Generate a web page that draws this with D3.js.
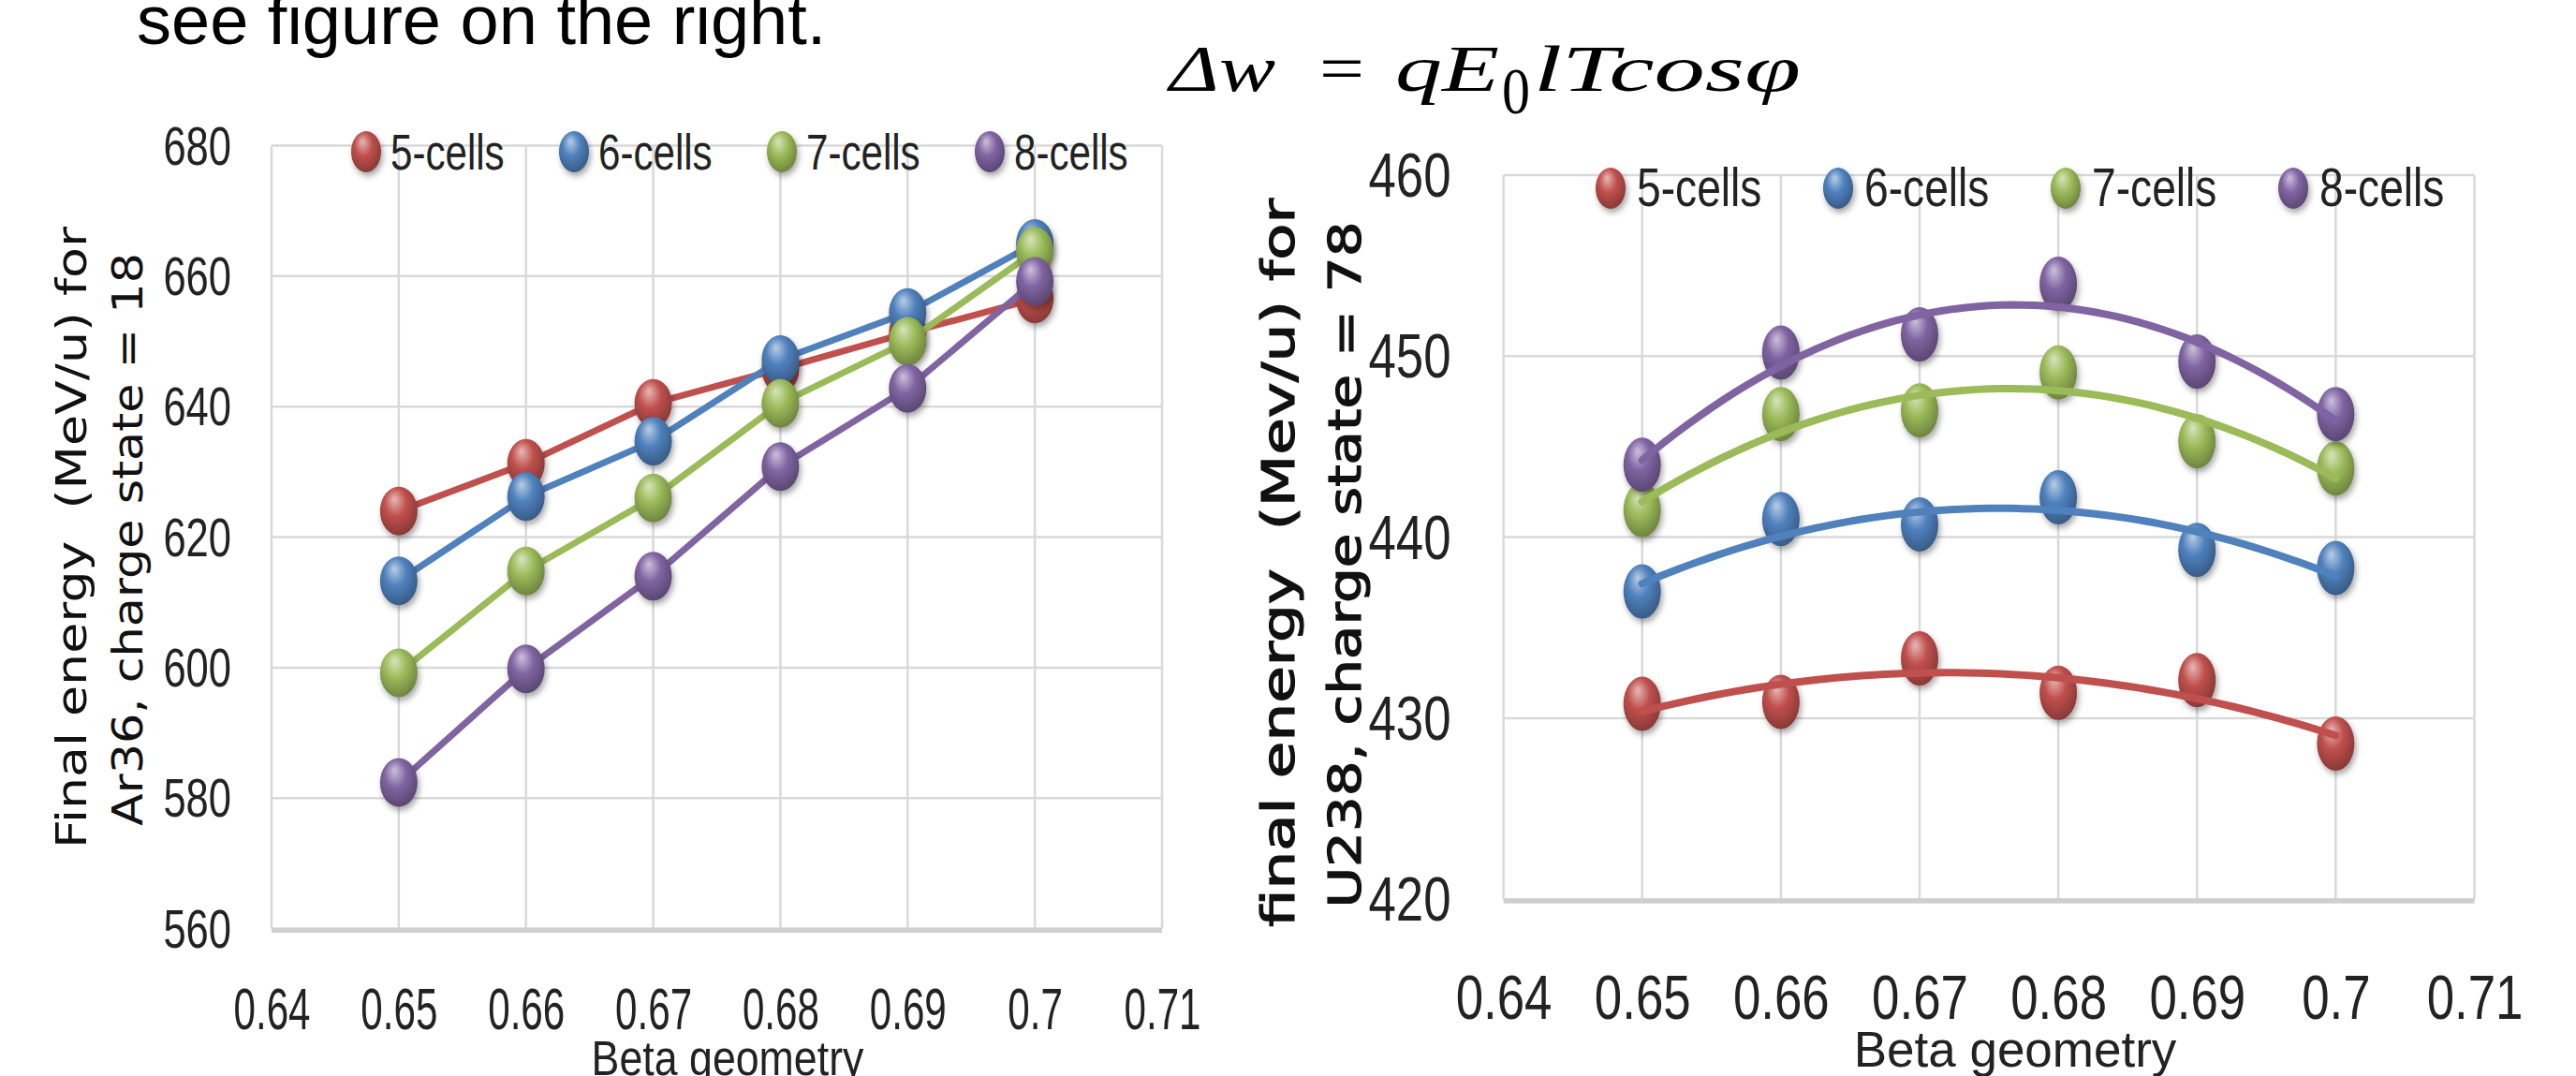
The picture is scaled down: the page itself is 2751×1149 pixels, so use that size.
<!DOCTYPE html>
<html>
<head>
<meta charset="utf-8">
<script src="https://cdn.jsdelivr.net/npm/d3@7/dist/d3.min.js"></script>
<style>
  body { margin: 0; background: #fff; }
  svg { display: block; }
</style>
</head>
<body>
<svg id="fig" width="2751" height="1149"></svg>
<script>
// ---- data ----
const betas = [0.65, 0.66, 0.67, 0.68, 0.69, 0.70];
const xTicks = [0.64, 0.65, 0.66, 0.67, 0.68, 0.69, 0.70, 0.71];
const seriesNames = ["5-cells", "6-cells", "7-cells", "8-cells"];
const seriesColors = ["#c0504d", "#4f81bd", "#9bbb59", "#8064a2"];

// Ar36, charge state 18
const ar5 = [624.0, 631.3, 640.5, 645.8, 651.3, 656.5];
const ar6 = [613.3, 626.2, 634.7, 647.2, 654.4, 665.0];
const ar7 = [599.2, 614.8, 626.0, 640.5, 650.0, 663.8];
const ar8 = [582.4, 599.8, 614.0, 630.8, 642.8, 659.2];
const arTicks = [560, 580, 600, 620, 640, 660, 680];

// U238, charge state 78
const u5 = [430.8, 430.9, 433.3, 431.4, 432.1, 428.6];
const u6 = [437.0, 441.0, 440.7, 442.2, 439.3, 438.3];
const u7 = [441.5, 446.8, 447.0, 449.1, 445.3, 443.8];
const u8 = [444.0, 450.2, 451.2, 454.0, 449.7, 446.8];
const uTicks = [420, 430, 440, 450, 460];

const svg = d3.select("#fig");
const sans = "'Liberation Sans', Arial, sans-serif";
const defs = svg.append("defs");

// sphere-like marker fills
seriesColors.forEach((c, i) => {
  const g = defs.append("radialGradient").attr("id", "ball" + i)
    .attr("cx", "45%").attr("cy", "40%").attr("r", "65%")
    .attr("fx", "38%").attr("fy", "25%");
  g.append("stop").attr("offset", "0%").attr("stop-color", d3.interpolateRgb(c, "#fff")(0.6));
  g.append("stop").attr("offset", "45%").attr("stop-color", c);
  g.append("stop").attr("offset", "100%").attr("stop-color", d3.color(c).darker(1.1));
});
const sh = defs.append("filter").attr("id", "shadow").attr("x", "-50%").attr("y", "-50%").attr("width", "200%").attr("height", "200%");
sh.append("feDropShadow").attr("dx", 2).attr("dy", 4).attr("stdDeviation", 3).attr("flood-color", "#000").attr("flood-opacity", 0.35);

// least squares y = a + b t + c t^2 (Excel polynomial trendline)
function quadFit(xs, ys) {
  const m = d3.mean(xs);
  const t = xs.map(x => (x - m) * 100);
  const S = k => d3.sum(t, v => Math.pow(v, k));
  const T = k => d3.sum(t, (v, i) => Math.pow(v, k) * ys[i]);
  const A = [[S(0), S(1), S(2), T(0)], [S(1), S(2), S(3), T(1)], [S(2), S(3), S(4), T(2)]];
  for (let i = 0; i < 3; i++) {
    for (let j = i + 1; j < 3; j++) {
      const f = A[j][i] / A[i][i];
      for (let k = i; k < 4; k++) A[j][k] -= f * A[i][k];
    }
  }
  const r = [0, 0, 0];
  for (let i = 2; i >= 0; i--) {
    let s = A[i][3];
    for (let k = i + 1; k < 3; k++) s -= A[i][k] * r[k];
    r[i] = s / A[i][i];
  }
  return x => { const u = (x - m) * 100; return r[0] + r[1] * u + r[2] * u * u; };
}

function panel(cfg) {
  const x = d3.scaleLinear().domain([0.64, 0.71]).range(cfg.xr);
  const y = d3.scaleLinear().domain(d3.extent(cfg.yTicks)).range(cfg.yr);
  const g = svg.append("g");

  // grid + frame
  g.selectAll(".hg").data(cfg.yTicks).join("line")
    .attr("x1", x(0.64)).attr("x2", x(0.71))
    .attr("y1", d => y(d)).attr("y2", d => y(d))
    .attr("stroke", "#d9d9d9").attr("stroke-width", 2.5);
  g.selectAll(".vg").data(xTicks).join("line")
    .attr("x1", d => x(d)).attr("x2", d => x(d))
    .attr("y1", y.range()[1]).attr("y2", y.range()[0])
    .attr("stroke", "#d9d9d9").attr("stroke-width", 2.5);
  g.append("line")
    .attr("x1", x(0.64)).attr("x2", x(0.71))
    .attr("y1", y.range()[0] + 2).attr("y2", y.range()[0] + 2)
    .attr("stroke", "#cfcfcf").attr("stroke-width", 5);

  // axes
  const ay = g.append("g").attr("transform", `translate(${x(0.64)},0)`)
    .call(d3.axisLeft(y).tickValues(cfg.yTicks).tickSize(0).tickFormat(d3.format("d")));
  ay.select(".domain").remove();
  ay.selectAll("text")
    .attr("x", 0).attr("dy", null)
    .attr("transform", `translate(${-cfg.yGap},${cfg.yFont * 0.34}) scale(${cfg.yScale},1)`)
    .attr("font-family", sans).attr("font-size", cfg.yFont).attr("fill", "#222");

  const ax = g.append("g").attr("transform", `translate(0,${y.range()[0]})`)
    .call(d3.axisBottom(x).tickValues(xTicks).tickSize(0).tickFormat(d => String(+d.toFixed(2))));
  ax.select(".domain").remove();
  ax.selectAll("text")
    .attr("y", 0).attr("dy", null)
    .attr("transform", `translate(0,${cfg.xBase}) scale(${cfg.xScale},1)`)
    .attr("font-family", sans).attr("font-size", cfg.xFont).attr("fill", "#222");

  // series
  cfg.series.forEach((vals, i) => {
    const pts = betas.map((b, k) => [b, vals[k]]);
    const sg = g.append("g");
    if (cfg.mode === "line") {
      sg.append("path").datum(pts)
        .attr("d", d3.line().x(d => x(d[0])).y(d => y(d[1])))
        .attr("fill", "none").attr("stroke", seriesColors[i]).attr("stroke-width", cfg.lw);
    }
    sg.selectAll("ellipse").data(pts).join("ellipse")
      .attr("cx", d => x(d[0])).attr("cy", d => y(d[1]))
      .attr("rx", cfg.rx).attr("ry", cfg.ry)
      .attr("fill", `url(#ball${i})`).attr("filter", "url(#shadow)");
  });
  if (cfg.mode === "trend") {
    cfg.series.forEach((vals, i) => {
      const f = quadFit(betas, vals);
      const xs = d3.range(0, 61).map(k => 0.65 + k * 0.05 / 60);
      g.append("path").datum(xs)
        .attr("d", d3.line().x(d => x(d)).y(d => y(f(d))))
        .attr("fill", "none").attr("stroke", seriesColors[i])
        .attr("stroke-width", cfg.lw).attr("stroke-linecap", "round");
    });
  }

  // legend
  const lg = g.append("g");
  seriesNames.forEach((n, i) => {
    const lx = cfg.leg.x0 + i * cfg.leg.dx;
    lg.append("ellipse").attr("cx", lx).attr("cy", cfg.leg.y)
      .attr("rx", cfg.leg.rx).attr("ry", cfg.leg.ry)
      .attr("fill", `url(#ball${i})`).attr("filter", "url(#shadow)");
    lg.append("text")
      .attr("transform", `translate(${lx + cfg.leg.tdx},${cfg.leg.y + cfg.leg.base}) scale(${cfg.leg.scale},1)`)
      .attr("font-family", sans).attr("font-size", cfg.leg.font).attr("fill", "#222")
      .text(n);
  });

  // axis titles
  g.append("text")
    .attr("transform", `translate(${cfg.xt.x},${cfg.xt.y}) scale(${cfg.xt.scale},1)`)
    .attr("text-anchor", "middle").attr("font-family", sans)
    .attr("font-size", cfg.xt.font).attr("fill", "#222").text("Beta geometry");
  cfg.yt.forEach(t => {
    g.append("text")
      .attr("transform", `translate(${t.x},${t.c}) rotate(-90)`)
      .attr("x", -t.len / 2).attr("dominant-baseline", "central")
      .attr("textLength", t.len).attr("lengthAdjust", "spacingAndGlyphs")
      .attr("font-family", "'DejaVu Sans', Verdana, sans-serif")
      .attr("font-size", t.font).attr("fill", "#111")
      .attr("stroke", "#111").attr("stroke-width", cfg.ytStroke)
      .attr("xml:space", "preserve")
      .text(t.s);
  });
}

panel({
  xr: [290, 1241], yr: [991.6, 155.5], yTicks: arTicks, mode: "line",
  series: [ar5, ar6, ar7, ar8], lw: 7, rx: 20, ry: 26,
  yGap: 43, yFont: 58, yScale: 0.75,
  xBase: 107, xFont: 62, xScale: 0.68,
  leg: { x0: 391, dx: 222, y: 162, tdx: 26, base: 19, font: 54, scale: 0.78, rx: 16, ry: 22 },
  xt: { x: 777, y: 1148, font: 52, scale: 0.86 },
  ytStroke: 0,
  yt: [
    { x: 76, c: 574, len: 664, font: 44, s: "Final energy  (MeV/u) for" },
    { x: 136, c: 576, len: 612, font: 44, s: "Ar36, charge state = 18" }
  ]
});

panel({
  xr: [1605.6, 2642.5], yr: [960.2, 187], yTicks: uTicks, mode: "trend",
  series: [u5, u6, u7, u8], lw: 8, rx: 20, ry: 29,
  yGap: 56, yFont: 66, yScale: 0.8,
  xBase: 128, xFont: 66, xScale: 0.8,
  leg: { x0: 1720, dx: 243, y: 201, tdx: 28, base: 19, font: 57, scale: 0.81, rx: 16, ry: 22 },
  xt: { x: 2152, y: 1139, font: 53, scale: 1.0 },
  ytStroke: 1.2,
  yt: [
    { x: 1365, c: 601, len: 778, font: 48, s: "final energy  (Mev/u) for" },
    { x: 1436, c: 603, len: 733, font: 48, s: "U238, charge state = 78" }
  ]
});

// heading text
svg.append("text").attr("x", 146).attr("y", 47)
  .attr("font-family", sans).attr("font-size", 74).attr("fill", "#000")
  .text("see figure on the right.");

// formula, pieces placed where the reference draws them
const serif = "'Liberation Serif', 'Times New Roman', serif";
const fm = svg.append("g").attr("font-family", serif).attr("font-size", 70).attr("fill", "#000");
const parts = [
  { s: "Δw", x: 1249, len: 113, it: true, dy: 0 },
  { s: "=", x: 1409, len: 48, it: false, dy: 0 },
  { s: "qE", x: 1490, len: 111, it: true, dy: 0 },
  { s: "0", x: 1604, len: 30, it: false, dy: 24 },
  { s: "lTcosφ", x: 1638, len: 285, it: true, dy: 0 }
];
parts.forEach(p => {
  fm.append("text").attr("x", p.x).attr("y", 97 + p.dy)
    .attr("font-style", p.it ? "italic" : "normal")
    .attr("textLength", p.len).attr("lengthAdjust", "spacingAndGlyphs")
    .text(p.s);
});
</script>
</body>
</html>
